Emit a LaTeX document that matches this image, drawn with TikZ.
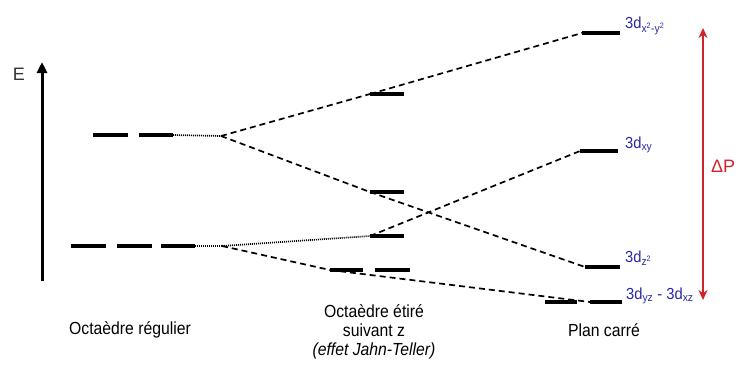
\documentclass[tikz,border=0pt]{standalone}
\usepackage{fontspec}
\setmainfont{Liberation Sans}
\usetikzlibrary{arrows.meta}
\definecolor{lblue}{RGB}{40,40,165}
\definecolor{dred}{RGB}{210,35,45}
\tikzset{
  level/.style={line width=3.2pt},
  conn/.style={line width=1.7pt, dash pattern=on 6pt off 4pt},
  dotconn/.style={line width=1.7pt, dash pattern=on 1pt off 1pt},
  lbl/.style={font=\fontsize{17.5}{19}\selectfont, inner sep=0pt, xscale=0.9, transform shape},
  orb/.style={font=\fontsize{16}{18}\selectfont, text=lblue, inner sep=0pt, anchor=west, xscale=0.92, transform shape},
}
\begin{document}
\begin{tikzpicture}[x=1pt,y=-1pt]
\useasboundingbox (0,0) rectangle (738,365);
% energy axis
\coordinate (axB) at (42,281);
\coordinate (axT) at (42,62);
\draw[line width=3pt, -{Triangle[length=11pt,width=10pt]}] (axB) -- (axT);
\node[font=\fontsize{18}{20}\selectfont, text=black!80, inner sep=0pt] (E) at (19,74) {E};
% regular octahedron levels
\coordinate (e1L) at (93,135); \coordinate (e1R) at (128,135);
\coordinate (e2L) at (139,135); \coordinate (e2R) at (173,135);
\coordinate (eS) at (221,136);
\coordinate (t1L) at (71,246); \coordinate (t1R) at (106,246);
\coordinate (t2L) at (117,246); \coordinate (t2R) at (152,246);
\coordinate (t3L) at (161,246); \coordinate (t3R) at (195,246);
\coordinate (tS) at (222,246);
% stretched octahedron
\coordinate (s1L) at (370,94); \coordinate (s1R) at (404,94);
\coordinate (s2L) at (370,192); \coordinate (s2R) at (404,192);
\coordinate (s3L) at (370,236); \coordinate (s3R) at (404,236);
\coordinate (s4aL) at (330,270); \coordinate (s4aR) at (363,270);
\coordinate (s4bL) at (375,270); \coordinate (s4bR) at (410,270);
% square planar
\coordinate (p1L) at (582,33); \coordinate (p1R) at (620,33);
\coordinate (p2L) at (580,151); \coordinate (p2R) at (618,151);
\coordinate (p3L) at (585,267); \coordinate (p3R) at (620,267);
\coordinate (p4aL) at (545,302); \coordinate (p4aR) at (577,302);
\coordinate (p4bL) at (590,302); \coordinate (p4bR) at (622,302);
% connectors
\draw[dotconn] (e2R) -- (eS);
\draw[dotconn] (t3R) -- (tS);
\draw[dotconn] (tS) -- (s3L);
\draw[conn] (eS) -- (s1L);
\draw[conn] (s1L) -- (p1L);
\draw[conn] (eS) -- (s2L);
\draw[conn] (s2L) -- (p3L);
\draw[conn] (s3L) -- (p2L);
\draw[conn] (tS) -- (s4aL);
\draw[conn] (s4aL) -- (p4bL);
% levels
\foreach \a/\b in {e1L/e1R,e2L/e2R,t1L/t1R,t2L/t2R,t3L/t3R,s1L/s1R,s2L/s2R,s3L/s3R,s4aL/s4aR,s4bL/s4bR,p1L/p1R,p2L/p2R,p3L/p3R,p4aL/p4aR,p4bL/p4bR}
  \draw[level] (\a) -- (\b);
% orbital labels
\node[orb] (l1) at (625,26) {3d\textsubscript{x\textsuperscript{2}-y\textsuperscript{2}}};
\node[orb] (l2) at (625,145) {3d\textsubscript{xy}};
\node[orb] (l3) at (625,258) {3d\textsubscript{z\textsuperscript{2}}};
\node[orb] (l4) at (626,296) {3d\textsubscript{yz} - 3d\textsubscript{xz}};
% splitting arrow
\coordinate (dT) at (703,28);
\coordinate (dB) at (703,300);
\draw[dred, line width=1.8pt, {Stealth[length=10pt,width=9pt]}-{Stealth[length=10pt,width=9pt]}] (dT) -- (dB);
\node[font=\fontsize{18}{20}\selectfont, text=dred, inner sep=0pt, anchor=west] (dP) at (711,166) {ΔP};
% bottom labels
\node[lbl] (c1) at (130,330) {Octaèdre régulier};
\node[lbl, align=center] (c2) at (374,332) {Octaèdre étiré\\suivant z\\{\itshape (effet Jahn-Teller)}};
\node[lbl] (c3) at (604,330) {Plan carré};
\end{tikzpicture}
\end{document}
